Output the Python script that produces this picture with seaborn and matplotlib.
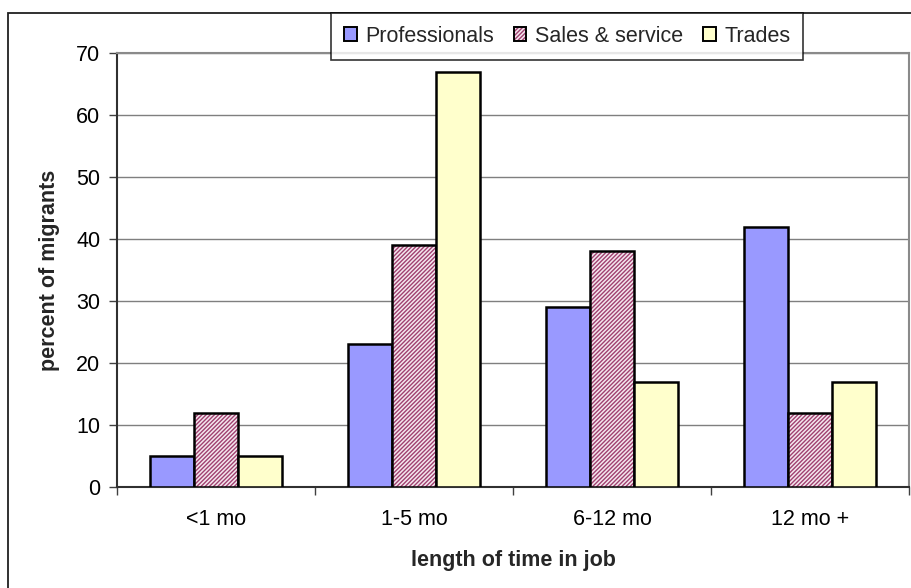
import matplotlib
matplotlib.use("Agg")
import matplotlib.pyplot as plt
from matplotlib.patches import Rectangle, Patch
import numpy as np
import pandas as pd
import seaborn as sns

# Job duration categories and the share of migrants in each occupation group
categories = ["<1 mo", "1-5 mo", "6-12 mo", "12 mo +"]
groups = ["Professionals", "Sales & service", "Trades"]
professionals = [5, 23, 29, 42]
sales_service = [12, 39, 38, 12]
trades = [5, 67, 17, 17]

y_ticks = [0, 10, 20, 30, 40, 50, 60, 70]

df = pd.DataFrame({
    "duration": categories * 3,
    "group": [groups[0]] * 4 + [groups[1]] * 4 + [groups[2]] * 4,
    "percent": professionals + sales_service + trades,
})

sns.set_theme(style="white")
plt.rcParams["font.family"] = ["Liberation Sans", "DejaVu Sans"]
plt.rcParams["hatch.linewidth"] = 1.0

FS = 15.5
W, H = 912, 588
fig = plt.figure(figsize=(W / 100, H / 100), dpi=100)
fig.patch.set_facecolor("white")
ax = fig.add_axes([117 / W, 1 - 487 / H, (909 - 117) / W, (487 - 53) / H])

palette = {"Professionals": "#9999ff", "Sales & service": "#f4e6ee", "Trades": "#ffffcc"}
sns.barplot(data=df, x="duration", y="percent", hue="group", order=categories,
            hue_order=groups, palette=palette, width=0.67, saturation=1,
            edgecolor="black", linewidth=1.8, legend=False, ax=ax, zorder=3)

# Fine diagonal hatch for the sales & service bars
for p in ax.containers[1].patches:
    p.set_hatch("////////")
    p._hatch_color = matplotlib.colors.to_rgba("#a04070")
    p.stale = True

ax.set_ylim(0, 70)
ax.set_xlim(-0.5, len(categories) - 0.5)
ax.set_yticks(y_ticks)
ax.set_yticklabels([str(t) for t in y_ticks], fontsize=FS)
ax.set_xticks(range(len(categories)))
ax.set_xticklabels(categories, fontsize=FS)
ax.set_xticks(np.arange(-0.5, len(categories), 1.0), minor=True)
ax.tick_params(axis="x", which="major", length=0, pad=16, labelcolor="black")
ax.tick_params(axis="x", which="minor", length=6, width=1, color="#404040", bottom=True)
ax.tick_params(axis="y", which="major", length=6, width=1, color="#404040", left=True,
               pad=6, labelcolor="black")

ax.yaxis.grid(True, color="#7f7f7f", linewidth=1.0, zorder=0)
ax.set_axisbelow(True)

for side in ["left", "bottom"]:
    ax.spines[side].set_color("#303030")
    ax.spines[side].set_linewidth(1.5)
for side in ["top", "right"]:
    ax.spines[side].set_visible(True)
    ax.spines[side].set_color("#8a8a8a")
    ax.spines[side].set_linewidth(1.5)

ax.set_ylabel("percent of migrants", fontsize=FS, fontweight="bold", labelpad=12)
ax.set_xlabel("length of time in job", fontsize=FS, fontweight="bold", labelpad=14)

# Legend across the top of the chart
handles = []
for cont in ax.containers:
    p = cont.patches[0]
    h = Patch(facecolor=p.get_facecolor(), edgecolor="black", linewidth=1.4,
              hatch=p.get_hatch())
    h._hatch_color = p._hatch_color
    handles.append(h)
leg = fig.legend(handles=handles, labels=groups, loc="upper left",
                 bbox_to_anchor=(331 / W, 1 - 13 / H), ncol=3, fontsize=FS,
                 frameon=True, fancybox=False, shadow=False,
                 handlelength=0.6, handleheight=0.6, handletextpad=0.4,
                 columnspacing=0.9, borderpad=0.6, borderaxespad=0)
leg.get_frame().set_edgecolor("black")
leg.get_frame().set_linewidth(1.2)
leg.set_zorder(10)

# Outer chart frame
fig.patches.append(Rectangle((8 / W, -0.05), 1.2, 1 - 13 / H + 0.05,
                             transform=fig.transFigure, fill=False,
                             edgecolor="#202020", linewidth=1.3, clip_on=False,
                             zorder=-1))

fig.savefig("out.png", dpi=100, facecolor="white")
